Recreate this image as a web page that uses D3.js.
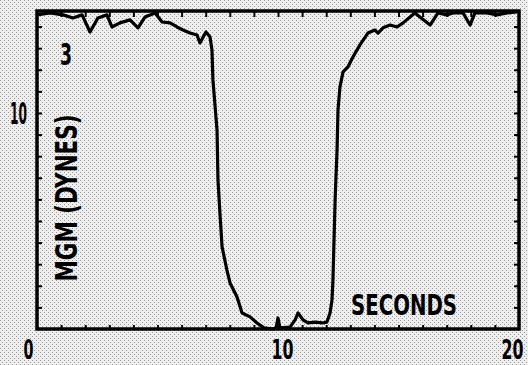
<!DOCTYPE html>
<html>
<head>
<meta charset="utf-8">
<script src="https://cdn.jsdelivr.net/npm/d3@7"></script>
<style>
  body { margin: 0; background: #e4e4e4; }
  svg { display: block; }
  text { font-family: "Liberation Sans Narrow", "DejaVu Sans Condensed", sans-serif; font-weight: bold; fill: #000; }
</style>
</head>
<body>
<div id="chart"></div>
<script>
// force trace
var seconds = [0, 0.54, 1.08, 1.49, 1.87, 2.20, 2.53, 2.90, 3.11, 3.44, 3.86, 4.19, 4.48, 4.90,
  5.19, 5.52, 5.81, 6.06, 6.35, 6.64, 6.76, 7.01, 7.18, 7.26, 7.30, 7.47, 7.51, 7.59, 7.68,
  7.88, 8.01, 8.30, 8.51, 8.84, 9.13, 9.42, 9.79, 9.92, 10.0, 10.08, 10.50, 10.71, 10.83,
  11.04, 11.24, 11.54, 11.83, 12.03, 12.16, 12.24, 12.28, 12.37, 12.45, 12.49, 12.57, 12.70,
  12.90, 13.11, 13.40, 13.73, 14.02, 14.15, 14.36, 14.65, 14.94, 15.19, 15.48, 15.68, 15.89,
  16.31, 16.64, 17.01, 17.26, 17.68, 17.97, 18.17, 18.67, 19.09, 19.50, 19.92];
var force = [14.54, 14.63, 14.54, 14.40, 14.54, 13.75, 14.40, 14.54, 13.98, 14.17, 14.31, 13.94, 14.44, 14.63,
  14.21, 14.17, 13.98, 13.84, 13.70, 13.61, 13.24, 13.75, 13.52, 12.92, 11.53, 9.21, 6.90, 5.37, 3.80,
  2.73, 2.13, 1.48, 0.74, 0.56, 0.28, 0.05, 0.0, 0.05, 0.51, 0.05, 0.09, 0.42, 0.74,
  0.42, 0.28, 0.32, 0.28, 0.32, 0.74, 1.34, 2.27, 5.97, 8.29, 10.14, 11.20, 11.90,
  12.13, 12.59, 13.15, 13.70, 13.84, 13.70, 13.94, 14.07, 13.98, 14.17, 14.44, 14.63, 14.44,
  14.07, 14.63, 14.54, 14.63, 14.63, 14.07, 14.63, 14.63, 14.54, 14.63, 14.68];

var xLabels = [0, 10, 20];
var yLabels = [10];
var xMinor = d3.range(1, 20);
var yMinor = d3.range(1, 15);

var width = 528, height = 365;
var plotL = 37, plotR = 519, plotT = 11, plotB = 329;

var x = d3.scaleLinear().domain([0, 20]).range([plotL, plotR]);
var y = d3.scaleLinear().domain([0, 14.72]).range([plotB, plotT]);

var svg = d3.select("#chart").append("svg")
  .attr("width", width).attr("height", height);

// halftone look of the scan
var pat = svg.append("defs").append("pattern")
  .attr("id", "dots").attr("width", 4).attr("height", 4)
  .attr("patternUnits", "userSpaceOnUse");
pat.append("rect").attr("width", 4).attr("height", 4).attr("fill", "#eeeeee");
pat.append("rect").attr("x", 0).attr("y", 0).attr("width", 1).attr("height", 1).attr("fill", "#9a9a9a");
pat.append("rect").attr("x", 2).attr("y", 2).attr("width", 1).attr("height", 1).attr("fill", "#9a9a9a");
svg.append("rect").attr("width", width).attr("height", height).attr("fill", "url(#dots)");

function minorAxis(axis, tr) {
  var g = svg.append("g").attr("transform", tr).call(axis);
  g.select(".domain").remove();
  g.selectAll(".tick line").attr("stroke", "#000").attr("stroke-width", 2);
  g.selectAll(".tick text").remove();
}
minorAxis(d3.axisBottom(x).tickValues(xMinor).tickSize(-4), "translate(0," + plotB + ")");
minorAxis(d3.axisTop(x).tickValues(xMinor).tickSize(-6), "translate(0," + plotT + ")");
minorAxis(d3.axisLeft(y).tickValues(yMinor).tickSize(-5), "translate(" + plotL + ",0)");
minorAxis(d3.axisRight(y).tickValues(yMinor).tickSize(-5), "translate(" + plotR + ",0)");

svg.append("rect")
  .attr("x", plotL).attr("y", plotT)
  .attr("width", plotR - plotL).attr("height", plotB - plotT)
  .attr("fill", "none").attr("stroke", "#000").attr("stroke-width", 3.5);

var line = d3.line()
  .x(function(d, i) { return x(seconds[i]); })
  .y(function(d) { return y(d); });

svg.append("path")
  .datum(force)
  .attr("d", line)
  .attr("fill", "none")
  .attr("stroke", "#000")
  .attr("stroke-width", 3.2)
  .attr("stroke-linejoin", "round");

// tick labels (the scan puts them a little off the tick marks)
var xNudge = { 0: -9, 10: 4, 20: -7 };
var gx = svg.append("g").attr("transform", "translate(0," + plotB + ")")
  .call(d3.axisBottom(x).tickValues(xLabels).tickSize(0));
gx.select(".domain").remove();
gx.selectAll("text")
  .attr("font-size", 26).attr("y", 30).attr("dy", 0)
  .attr("dx", function(d) { return xNudge[d]; })
  .attr("textLength", function(d) { return d < 10 ? 10 : 22; })
  .attr("lengthAdjust", "spacingAndGlyphs");

var gy = svg.append("g").attr("transform", "translate(" + plotL + ",0)")
  .call(d3.axisLeft(y).tickValues(yLabels).tickSize(0).tickPadding(10));
gy.select(".domain").remove();
gy.selectAll("text")
  .attr("font-size", 30).attr("dy", "0.36em")
  .attr("textLength", 17).attr("lengthAdjust", "spacingAndGlyphs");

svg.append("text")
  .attr("x", 404).attr("y", 315)
  .attr("text-anchor", "middle").attr("font-size", 29)
  .attr("textLength", 106).attr("lengthAdjust", "spacingAndGlyphs")
  .text("SECONDS");

svg.append("text")
  .attr("transform", "translate(77,198) rotate(-90)")
  .attr("text-anchor", "middle").attr("font-size", 30)
  .attr("textLength", 167).attr("lengthAdjust", "spacingAndGlyphs")
  .text("MGM (DYNES)");

svg.append("text")
  .attr("x", 66).attr("y", 65)
  .attr("text-anchor", "middle").attr("font-size", 30)
  .attr("textLength", 12).attr("lengthAdjust", "spacingAndGlyphs")
  .text("3");
</script>
</body>
</html>
